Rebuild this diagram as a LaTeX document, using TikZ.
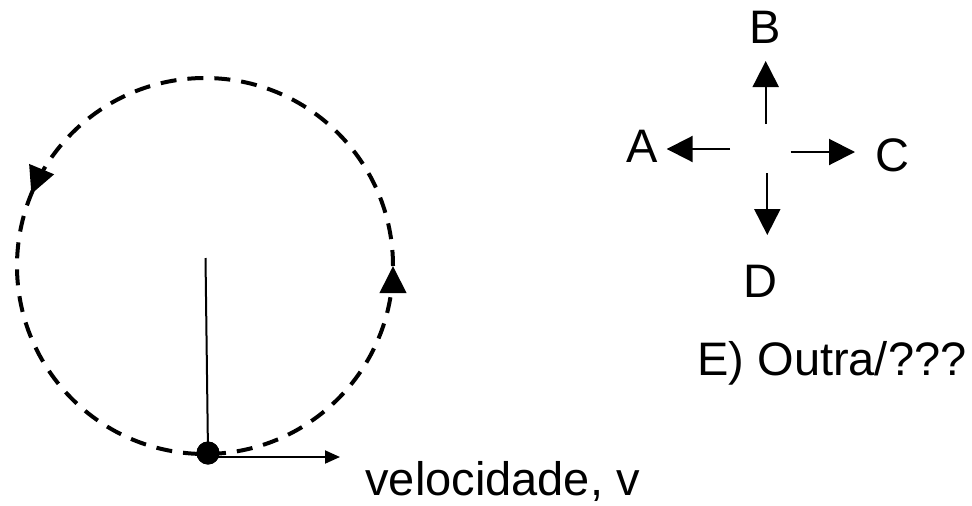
\documentclass[tikz,border=0pt]{standalone}
\usepackage{fontspec}
\setmainfont{Liberation Sans}
\usetikzlibrary{arrows.meta,positioning,calc}
\tikzset{
  lbl/.style={font=\fontsize{23.5}{28}\selectfont,inner sep=0pt},
  orbit/.style={draw=black,line width=2pt,dash pattern=on 8pt off 5.5pt},
  orbittip/.style={-{Triangle[length=13.5pt,width=13pt]},draw=black,line width=2pt},
  arr/.style={-{Triangle[length=13pt,width=13pt]},draw=black,line width=1pt},
  arrsmall/.style={-{Triangle[length=7.5pt,width=6.5pt]},draw=black,line width=1pt},
  ball/.style={circle,fill=black,inner sep=0pt,minimum size=11.5pt}
}
\begin{document}
\begin{tikzpicture}[x=0.5pt,y=0.5pt]
\path[use as bounding box] (0,0) rectangle (972,505);
% trajetoria circular
\coordinate (o) at (205,239);
\draw[orbit] (o) circle[radius=188];
\draw[orbittip] (o) ++(-8:188) arc[start angle=-8,end angle=0,radius=188];
\draw[orbittip] (o) ++(150:188) arc[start angle=150,end angle=157.5,radius=188];
\coordinate (top) at (205.5,247);
\node[ball] (dot) at (208,52) {};
\coordinate (vend) at (340,48);
\draw[line width=1pt] (top) -- (dot.center);
\draw[arrsmall] (dot.center |- vend) -- (vend);
\node[ball] at (dot) {};
\node[lbl,anchor=base west] (vel) at (365,10) {velocidade, v};
% opcoes de direcao
\node[lbl,anchor=base] (B) at (765,462) {B};
\node[lbl,anchor=base] (A) at (642,343) {A};
\node[lbl,anchor=base] (C) at (892,334) {C};
\node[lbl,anchor=base] (D) at (760,208) {D};
\coordinate (b0) at (765.7,381); \coordinate (b1) at (765.7,444);
\coordinate (a0) at (730,356); \coordinate (a1) at (666.7,356);
\coordinate (c0) at (790.7,353); \coordinate (c1) at (855,353);
\coordinate (d0) at (767.3,332); \coordinate (d1) at (767.3,270);
\draw[arr] (b0) -- (b1); \draw[arr] (a0) -- (a1);
\draw[arr] (c0) -- (c1); \draw[arr] (d0) -- (d1);
\node[lbl,anchor=base west] (E) at (697,130) {E) Outra/???};
\end{tikzpicture}
\end{document}
